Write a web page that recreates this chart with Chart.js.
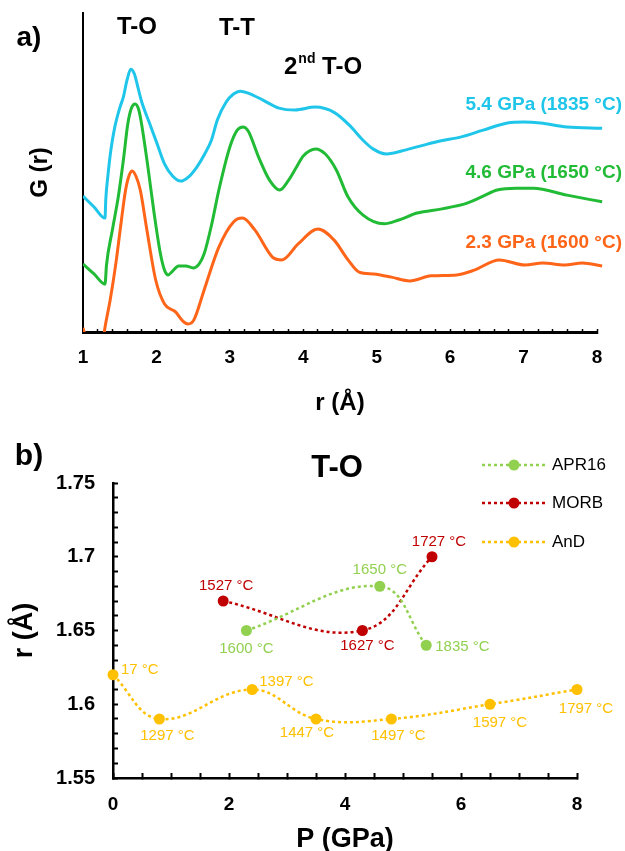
<!DOCTYPE html>
<html><head><meta charset="utf-8">
<script src="https://cdn.jsdelivr.net/npm/chart.js@4.4.0/dist/chart.umd.min.js"></script>
<style>
html,body{margin:0;padding:0;background:#fff;overflow:hidden;}
#wrap{position:relative;width:625px;height:851px;overflow:hidden;}
.box{position:absolute;left:0;width:625px;}
</style></head><body>
<div id="wrap">
<div class="box" style="top:0;height:425px"><canvas id="c1" width="625" height="425"></canvas></div>
<div class="box" style="top:425px;height:440px"><canvas id="c2" width="625" height="440"></canvas></div>
</div>
<script>
// ---------- panel a) : G(r) curves (arbitrary, offset units) ----------
const r54 = [1.00,1.15,1.30,1.31,1.34,1.38,1.43,1.50,1.55,1.60,1.65,1.70,1.75,1.80,1.90,2.00,2.11,2.22,2.33,2.45,2.55,2.65,2.75,2.83,2.95,3.05,3.14,3.25,3.45,3.67,3.89,4.16,4.43,4.65,4.81,4.95,5.13,5.40,5.69,5.86,6.14,6.45,6.78,7.00,7.23,7.59,8.07];
const g54 = [4.26,3.92,3.57,4.14,4.92,5.71,6.39,7.02,7.37,7.90,8.24,8.09,7.65,7.21,6.58,5.96,5.27,4.89,4.73,4.89,5.17,5.55,6.02,6.65,7.21,7.46,7.55,7.49,7.27,7.02,6.96,7.05,6.87,6.43,6.02,5.74,5.58,5.71,5.89,5.99,6.11,6.33,6.55,6.58,6.55,6.43,6.39];

const r46 = [1.00,1.15,1.30,1.32,1.40,1.48,1.55,1.61,1.66,1.71,1.76,1.80,1.88,1.97,2.05,2.11,2.16,2.22,2.30,2.40,2.50,2.58,2.65,2.75,2.85,3.00,3.10,3.18,3.25,3.39,3.54,3.68,3.80,3.90,4.00,4.17,4.30,4.45,4.61,4.81,5.10,5.30,5.55,5.89,6.23,6.45,6.64,6.90,7.13,7.59,8.07];
const g46 = [2.13,1.82,1.50,2.10,3.20,4.23,5.39,6.52,7.02,7.15,6.96,6.49,5.24,3.70,2.51,1.94,1.79,1.91,2.07,2.07,2.01,2.13,2.45,3.35,4.45,5.80,6.33,6.43,6.30,5.49,4.76,4.45,4.76,5.14,5.52,5.74,5.58,5.08,4.23,3.67,3.39,3.51,3.73,3.86,4.04,4.26,4.45,4.51,4.51,4.29,4.08];

const r23 = [1.00,1.08,1.20,1.28,1.29,1.37,1.45,1.52,1.58,1.63,1.67,1.72,1.78,1.87,1.99,2.11,2.26,2.36,2.43,2.51,2.65,2.85,3.05,3.17,3.34,3.58,3.71,3.93,4.20,4.42,4.61,4.76,4.96,5.20,5.45,5.74,6.09,6.33,6.67,7.02,7.26,7.56,7.80,8.07];
const g23 = [0.13,-0.50,-0.90,-0.20,0.00,1.00,2.19,3.45,4.45,4.92,5.05,4.89,4.45,3.20,1.63,0.88,0.63,0.34,0.25,0.38,1.32,2.66,3.45,3.57,3.20,2.35,2.26,2.76,3.23,2.88,2.26,1.88,1.82,1.72,1.60,1.76,1.79,1.94,2.26,2.10,2.16,2.10,2.16,2.07];

const curveNames = ['5.4 GPa (1835 °C)','4.6 GPa (1650 °C)','2.3 GPa (1600 °C)'];
const peakNames = ['T-O','T-T','T-O'];   // third one is the 2nd T-O
const rTickLabels = ['1','2','3','4','5','6','7','8'];

// ---------- panel b) : T-O distance vs pressure ----------
const seriesNames = ['APR16','MORB','AnD'];
const pAPR = [2.3, 4.6, 5.4];
const dAPR = [1.65, 1.68, 1.64];
const tAPR = ['1600 °C','1650 °C','1835 °C'];
const pMORB = [1.9, 4.3, 5.5];
const dMORB = [1.67, 1.65, 1.70];
const tMORB = ['1527 °C','1627 °C','1727 °C'];
const pAnD = [0, 0.8, 2.4, 3.5, 4.8, 6.5, 8];
const dAnD = [1.62, 1.59, 1.61, 1.59, 1.59, 1.60, 1.61];
const tAnD = ['17 °C','1297 °C','1397 °C','1447 °C','1497 °C','1597 °C','1797 °C'];
const pTickLabels = ['0','2','4','6','8'];
const dTickLabels = ['1.55','1.6','1.65','1.7','1.75'];

// ---------- styling ----------
const FF = "'Liberation Sans', Arial, Helvetica, sans-serif";
const CYAN = '#1fc6ea', GREEN = '#22bb36', ORANGE = '#ff6518';
const C_APR = '#92d050', C_MORB = '#c00000', C_AND = '#ffc000';
const pts = (xs, ys) => xs.map((x, i) => ({x: x, y: ys[i]}));

const topText = {
  id: 'topText',
  afterDraw(chart) {
    const ctx = chart.ctx;
    ctx.save();
    ctx.fillStyle = '#000';
    ctx.textBaseline = 'middle';
    ctx.textAlign = 'center';
    ctx.font = 'bold 28px ' + FF;
    ctx.fillText('a)', 29, 38);
    ctx.font = 'bold 24px ' + FF;
    ctx.fillText(peakNames[0], 137, 27);
    ctx.fillText(peakNames[1], 237, 28);
    ctx.textAlign = 'left';
    let x = 284; const y = 67;
    ctx.fillText('2', x, y); x += ctx.measureText('2').width + 1;
    ctx.font = 'bold 14px ' + FF;
    ctx.fillText('nd', x, y - 8); x += ctx.measureText('nd').width;
    ctx.font = 'bold 24px ' + FF;
    ctx.fillText(' ' + peakNames[2], x, y);
    ctx.textAlign = 'right';
    ctx.font = 'bold 19px ' + FF;
    const ly = [105, 173, 243];
    chart.data.datasets.forEach((ds, i) => {
      ctx.fillStyle = ds.borderColor;
      ctx.fillText(ds.label, 622, ly[i]);
    });
    ctx.restore();
  }
};

const intLabel = (v) => Math.abs(v - Math.round(v)) < 1e-6 ? rTickLabels[Math.round(v) - 1] : '';

new Chart(document.getElementById('c1'), {
  type: 'line',
  data: {
    datasets: [
      {label: curveNames[0], data: pts(r54, g54), borderColor: CYAN},
      {label: curveNames[1], data: pts(r46, g46), borderColor: GREEN},
      {label: curveNames[2], data: pts(r23, g23), borderColor: ORANGE}
    ].map(d => Object.assign(d, {borderWidth: 3, pointRadius: 0, fill: false,
      cubicInterpolationMode: 'monotone', clip: {left: 0, top: 10, right: 8, bottom: 0}}))
  },
  options: {
    responsive: false, animation: false, events: [],
    layout: {padding: {top: 13, right: 28, left: 0, bottom: 0}},
    plugins: {legend: {display: false}, tooltip: {enabled: false}},
    scales: {
      x: {
        type: 'linear', min: 1, max: 8,
        ticks: {stepSize: 0.2, autoSkip: false, maxRotation: 0, padding: 17, color: '#000',
          font: {family: FF, size: 19, weight: 'bold'}, callback: intLabel},
        grid: {display: true, drawOnChartArea: false, drawTicks: true, tickLength: -3, tickWidth: 1.5, tickColor: '#000'},
        border: {display: true, color: '#000', width: 3},
        title: {display: true, text: 'r (Å)', color: '#000', font: {family: FF, size: 24, weight: 'bold'}, padding: {top: 0, bottom: 7}},
        afterFit: s => { s.height = 93; }
      },
      y: {
        min: 0, max: 10,
        ticks: {display: false},
        grid: {display: false},
        border: {display: true, color: '#000', width: 2},
        title: {display: true, text: 'G (r)', color: '#000', font: {family: FF, size: 24, weight: 'bold'}, padding: {top: 26, bottom: 0}},
        afterFit: s => { s.width = 83; }
      }
    }
  },
  plugins: [topText]
});

// ---------- panel b) ----------
const labelPlace = [
  [['b', 0, 18], ['a', 0, -16], ['r', 9, 2]],
  [['a', 3, -15], ['b', 5, 15], ['a', 7, -15]],
  [['r', 8, -5], ['b', 8, 17], ['r', 7, -8], ['b', -9, 14], ['b', 7, 17], ['b', 10, 19], ['b', 9, 19]]
];
const pointTexts = [tAPR, tMORB, tAnD];

const bottomDeco = {
  id: 'bottomDeco',
  afterDatasetsDraw(chart) {
    const ctx = chart.ctx;
    ctx.save();
    ctx.font = '15px ' + FF;
    ctx.textBaseline = 'middle';
    chart.data.datasets.forEach((ds, i) => {
      const meta = chart.getDatasetMeta(i);
      meta.data.forEach((el, j) => {
        const pl = labelPlace[i][j];
        ctx.fillStyle = ds.borderColor;
        ctx.textAlign = pl[0] === 'r' ? 'left' : 'center';
        ctx.fillText(pointTexts[i][j], el.x + pl[1], el.y + pl[2]);
      });
    });
    ctx.restore();
  },
  afterDraw(chart) {
    const ctx = chart.ctx;
    ctx.save();
    ctx.fillStyle = '#000';
    ctx.textBaseline = 'middle';
    ctx.textAlign = 'center';
    ctx.font = 'bold 30px ' + FF;
    ctx.fillText('b)', 29, 32);
    ctx.font = 'bold 31px ' + FF;
    ctx.fillText('T-O', 337, 43);
    // legend
    const rows = [40, 78, 117];
    chart.data.datasets.forEach((ds, i) => {
      const y = rows[i];
      ctx.strokeStyle = ds.borderColor;
      ctx.lineWidth = 2.5;
      ctx.setLineDash(ds.borderDash);
      ctx.beginPath(); ctx.moveTo(482, y); ctx.lineTo(547, y); ctx.stroke();
      ctx.setLineDash([]);
      ctx.fillStyle = ds.borderColor;
      ctx.beginPath(); ctx.arc(514, y, 5.5, 0, Math.PI * 2); ctx.fill();
      ctx.fillStyle = '#000';
      ctx.textAlign = 'left';
      ctx.font = '17px ' + FF;
      ctx.fillText(ds.label, 552, y);
    });
    ctx.restore();
  }
};

const pLabel = (v) => Math.abs(v / 2 - Math.round(v / 2)) < 1e-6 ? pTickLabels[Math.round(v / 2)] : '';
const dLabel = (v) => {
  const k = (v - 1.55) * 20;
  return Math.abs(k - Math.round(k)) < 1e-6 ? dTickLabels[Math.round(k)] : '';
};

new Chart(document.getElementById('c2'), {
  type: 'line',
  data: {
    datasets: [
      {label: seriesNames[0], data: pts(pAPR, dAPR), borderColor: C_APR, pointBackgroundColor: C_APR},
      {label: seriesNames[1], data: pts(pMORB, dMORB), borderColor: C_MORB, pointBackgroundColor: C_MORB},
      {label: seriesNames[2], data: pts(pAnD, dAnD), borderColor: C_AND, pointBackgroundColor: C_AND}
    ].map(d => Object.assign(d, {borderWidth: 2.5, borderDash: [3, 3], tension: 0.4, fill: false,
      pointRadius: 5.5, pointBorderWidth: 0, clip: false}))
  },
  options: {
    responsive: false, animation: false, events: [],
    layout: {padding: {top: 58, right: 48, left: 0, bottom: 0}},
    plugins: {legend: {display: false}, tooltip: {enabled: false}},
    scales: {
      x: {
        type: 'linear', min: 0, max: 8,
        ticks: {stepSize: 0.5, autoSkip: false, maxRotation: 0, padding: 20, color: '#000',
          font: {family: FF, size: 19, weight: 'bold'}, callback: pLabel},
        grid: {display: true, drawOnChartArea: false, drawTicks: true, tickLength: -5, tickWidth: 2, tickColor: '#000'},
        border: {display: true, color: '#000', width: 2.5},
        title: {display: true, text: 'P (GPa)', color: '#000', font: {family: FF, size: 27, weight: 'bold'}, padding: {top: 0, bottom: 9}},
        afterFit: s => { s.height = 87; }
      },
      y: {
        type: 'linear', min: 1.55, max: 1.75,
        ticks: {stepSize: 0.01, autoSkip: false, padding: 23, color: '#000',
          font: {family: FF, size: 20, weight: 'bold'}, callback: dLabel},
        grid: {display: true, drawOnChartArea: false, drawTicks: true, tickLength: -5, tickWidth: 2, tickColor: '#000'},
        border: {display: true, color: '#000', width: 2.5},
        title: {display: true, text: 'r (Å)', color: '#000', font: {family: FF, size: 27, weight: 'bold'}, padding: {top: 8, bottom: 0}},
        afterFit: s => { s.width = 113; }
      }
    }
  },
  plugins: [bottomDeco]
});
</script>
</body></html>
